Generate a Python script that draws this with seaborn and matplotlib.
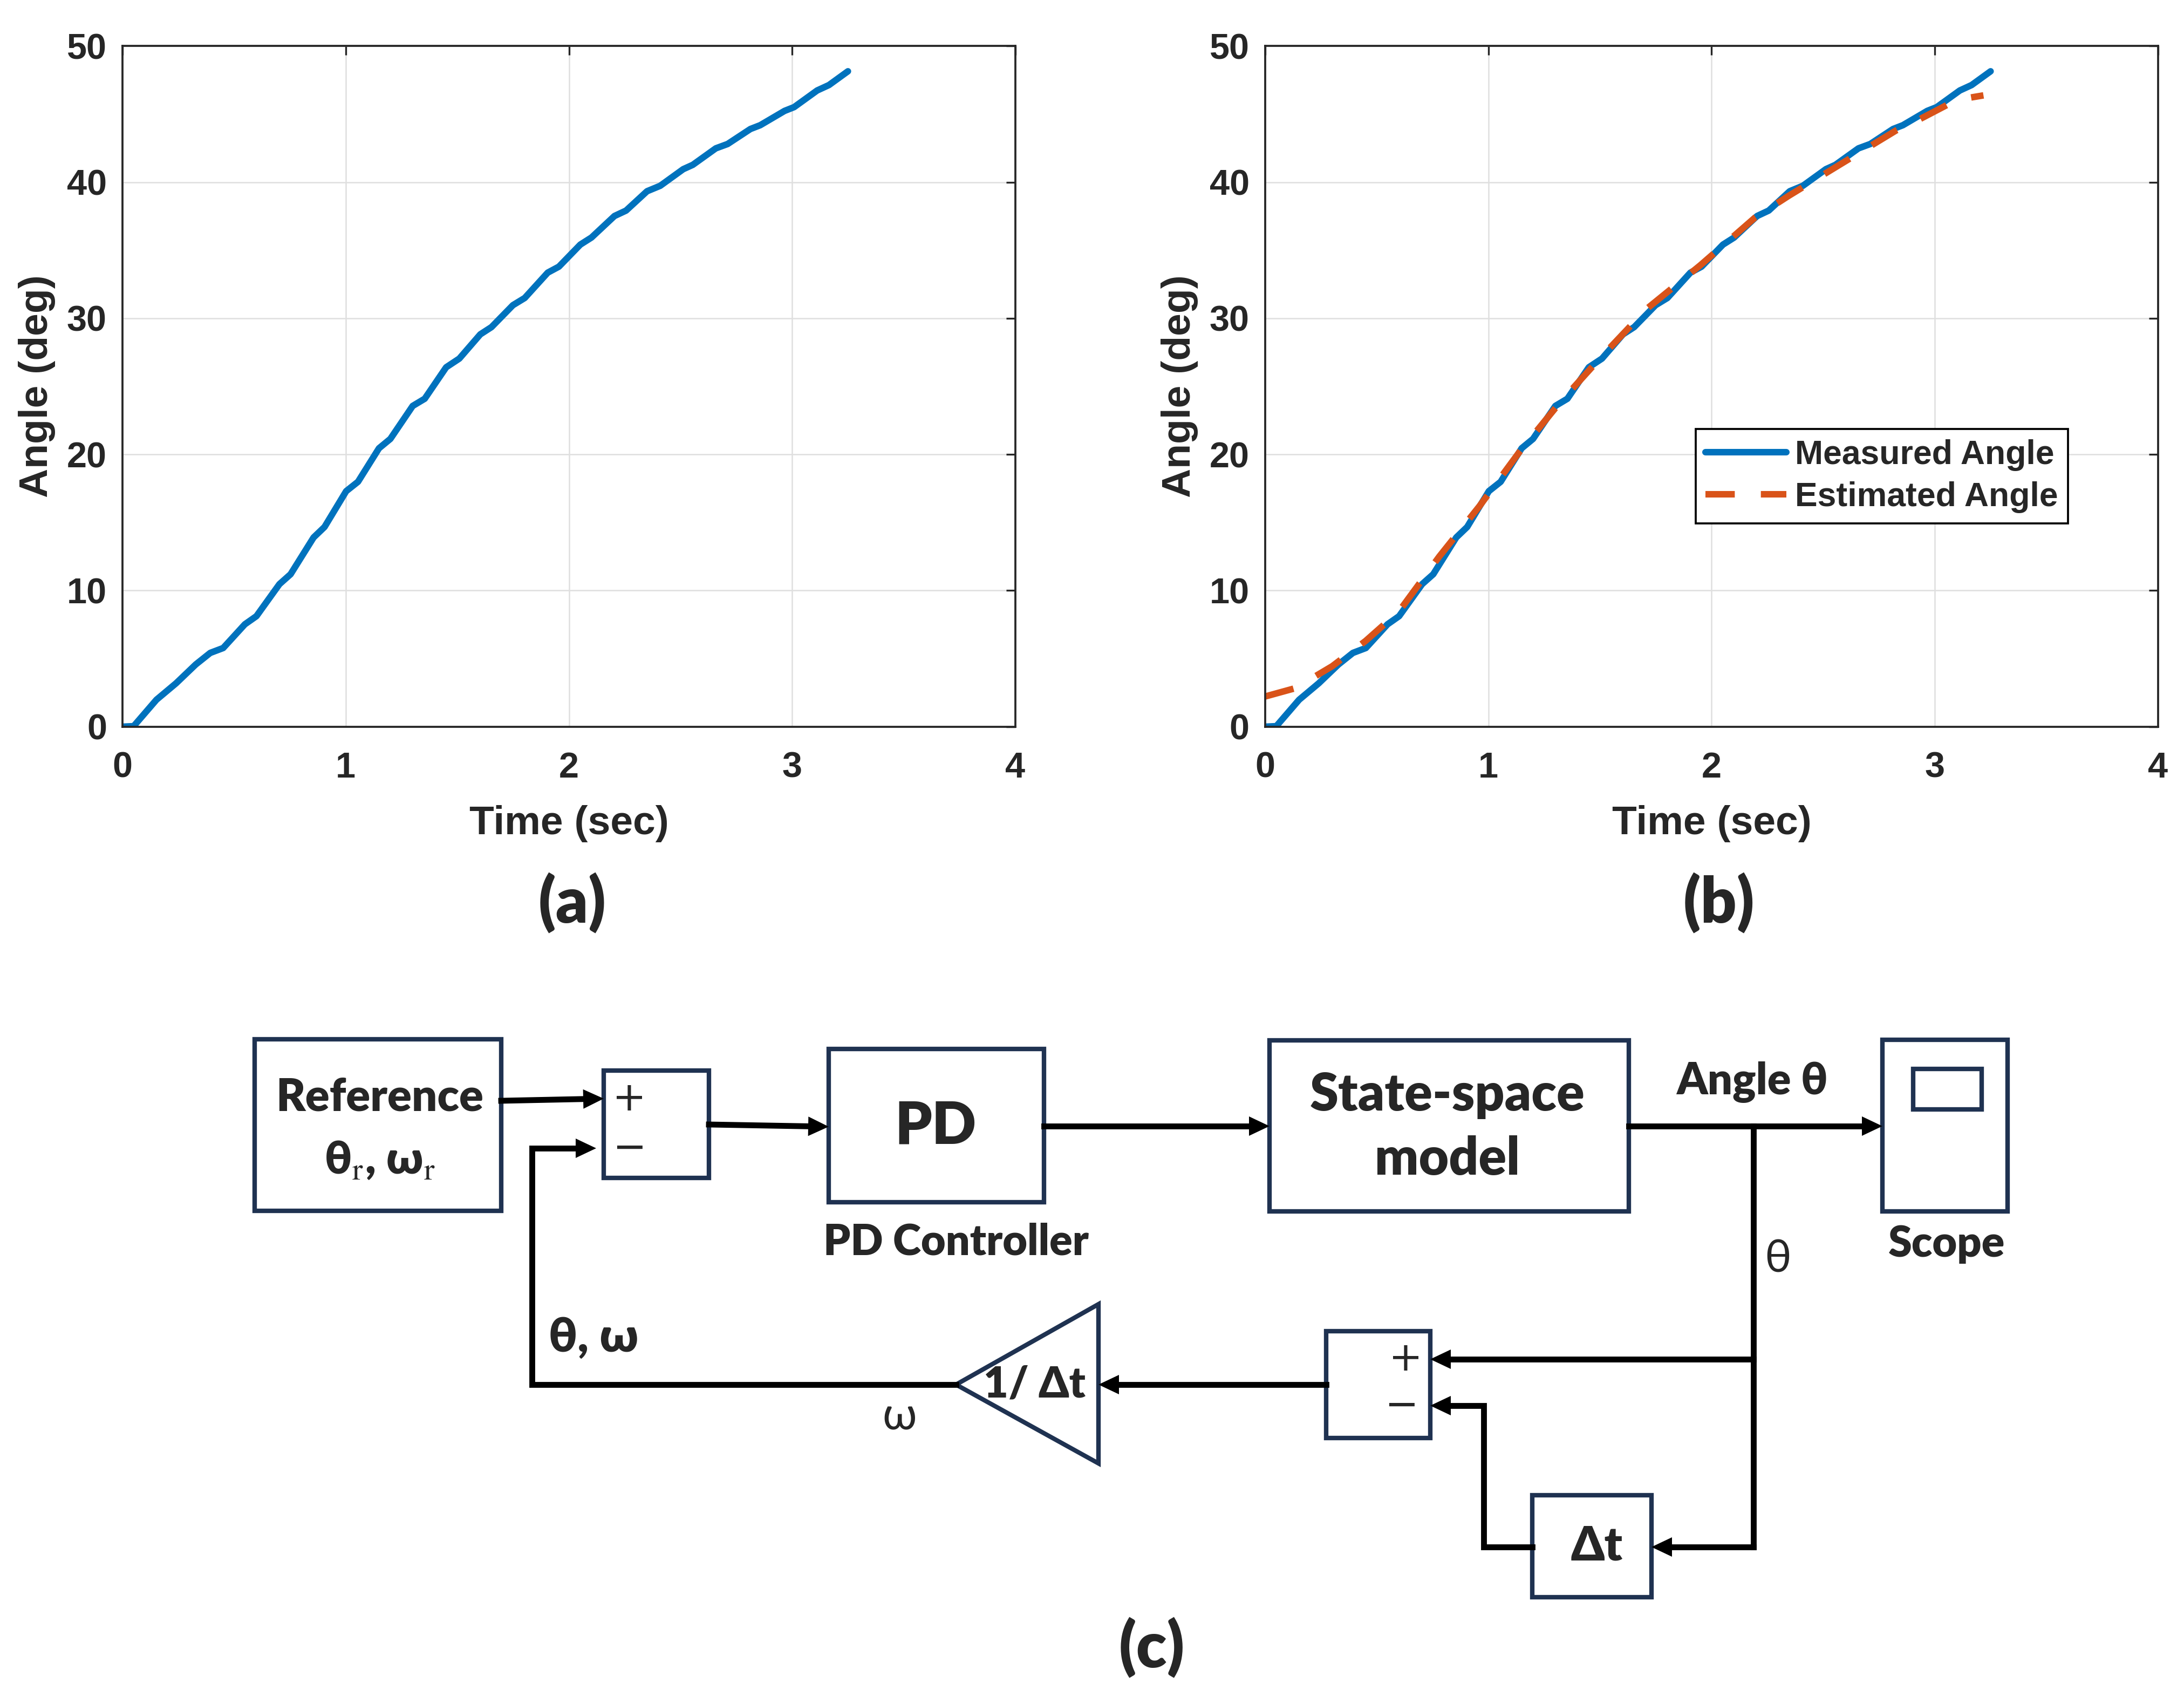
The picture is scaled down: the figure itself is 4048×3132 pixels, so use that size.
import numpy as np
import matplotlib
matplotlib.use("Agg")
import matplotlib.pyplot as plt
from matplotlib.patches import Rectangle, Polygon
import seaborn as sns

# ---- data ----
time_meas = [0.0, 0.05, 0.152, 0.24, 0.328, 0.393, 0.451, 0.548, 0.60, 0.703, 0.753,
             0.856, 0.905, 1.002, 1.055, 1.149, 1.20, 1.30, 1.354, 1.45, 1.509, 1.603,
             1.653, 1.749, 1.802, 1.905, 1.955, 2.051, 2.101, 2.204, 2.256, 2.35, 2.409,
             2.512, 2.555, 2.658, 2.711, 2.813, 2.857, 2.966, 3.009, 3.112, 3.165, 3.25]
angle_meas = [0.0, 0.04, 1.98, 3.19, 4.57, 5.42, 5.78, 7.52, 8.12, 10.47, 11.2,
              13.9, 14.67, 17.3, 17.99, 20.45, 21.14, 23.56, 24.09, 26.4, 27.04, 28.82,
              29.35, 30.96, 31.49, 33.35, 33.79, 35.41, 35.93, 37.51, 37.91, 39.33, 39.73,
              40.95, 41.27, 42.48, 42.8, 43.9, 44.18, 45.23, 45.51, 46.73, 47.13, 48.14]

time_est = [0.0, 0.135, 0.30, 0.45, 0.60, 0.78, 0.96, 1.14, 1.32, 1.50, 1.71, 1.95,
            2.195, 2.346, 2.586, 2.827, 2.93, 3.098, 3.218]
angle_est = [2.22, 2.83, 4.44, 6.3, 8.48, 12.5, 16.2, 20.2, 23.8, 27.06, 30.7, 33.9,
             37.4, 39.0, 41.4, 43.8, 44.6, 46.04, 46.37]

x_ticks = [0, 1, 2, 3, 4]
y_ticks = [0, 10, 20, 30, 40, 50]
legend_labels = ["Measured Angle", "Estimated Angle"]
panel_labels = ["(a)", "(b)", "(c)"]

BLUE = "#0072BD"
ORANGE = "#D95319"
NAVY = "#1F3251"
AXC = "#262626"

sns.set_style("white")
plt.rcParams["font.family"] = ["Liberation Sans", "DejaVu Sans"]
plt.rcParams["mathtext.fontset"] = "stix"

fig = plt.figure(figsize=(4048 / 300, 3132 / 300), dpi=300)

# diagram canvas in pixel units (drawn first, behind the plots)
axd = fig.add_axes([0, 0, 1, 1])
axd.set_xlim(0, 4048)
axd.set_ylim(3132, 0)
axd.axis("off")

ax_a = fig.add_axes([0.0561, 0.5700, 0.4088, 0.4028])
ax_b = fig.add_axes([0.5793, 0.5700, 0.4088, 0.4028])


def style(ax):
    ax.set_xlim(0, 4)
    ax.set_ylim(0, 50)
    ax.set_xticks(x_ticks)
    ax.set_yticks(y_ticks)
    ax.grid(True, color="#dfdfdf", linewidth=0.6)
    ax.set_axisbelow(True)
    ax.tick_params(direction="in", length=4, width=0.8, top=True, right=True,
                   labelsize=16, colors=AXC)
    ax.tick_params(axis="x", pad=11)
    ax.tick_params(axis="y", pad=7)
    for lab in ax.get_xticklabels() + ax.get_yticklabels():
        lab.set_fontweight("bold")
    for s in ax.spines.values():
        s.set_visible(True)
        s.set_color(AXC)
        s.set_linewidth(0.9)
    ax.set_xlabel("Time (sec)", fontsize=18, fontweight="bold", color=AXC, labelpad=9)
    ax.set_ylabel("Angle (deg)", fontsize=18, fontweight="bold", color=AXC, labelpad=5)


sns.lineplot(x=time_meas, y=angle_meas, ax=ax_a, color=BLUE, linewidth=2.9)
style(ax_a)

sns.lineplot(x=time_meas, y=angle_meas, ax=ax_b, color=BLUE, linewidth=2.9,
             label=legend_labels[0])
sns.lineplot(x=time_est, y=angle_est, ax=ax_b, color=ORANGE, linewidth=2.9,
             linestyle=(0, (4.5, 4)), label=legend_labels[1])
style(ax_b)
leg = ax_b.legend(loc="lower left", bbox_to_anchor=(0.482, 0.299), borderaxespad=0,
                  fancybox=False, framealpha=1, edgecolor="black",
                  handlelength=2.4, handletextpad=0.25, borderpad=0.3, labelspacing=0.3,
                  prop={"weight": "bold", "size": 15})
leg.get_frame().set_linewidth(0.9)

# ---- block diagram (c) ----
DFONT = ["Lato", "DejaVu Sans"]
LW = 2.6
HL, HW = 38, 36

for lbl, (px, py) in zip(panel_labels, [(1061, 1673), (3186, 1673), (2135, 3054)]):
    fig.text(px / 4048, 1 - py / 3132, lbl, ha="center", va="center",
             fontsize=28, fontweight="heavy", family=DFONT)


def box(x0, y0, x1, y1, lw=2.0):
    axd.add_patch(Rectangle((x0, y0), x1 - x0, y1 - y0, fill=False,
                            edgecolor=NAVY, linewidth=lw))


def wire(pts, head=True):
    pts = [np.array(p, float) for p in pts]
    if head:
        d = pts[-1] - pts[-2]
        d /= np.hypot(*d)
        n = np.array([-d[1], d[0]])
        tip = pts[-1]
        base = tip - d * HL
        line = pts[:-1] + [base]
        axd.add_patch(Polygon([tip, base + n * HW / 2, base - n * HW / 2],
                              closed=True, color="black", linewidth=0))
    else:
        line = pts
    xs, ys = zip(*line)
    axd.plot(xs, ys, color="black", lw=LW, solid_capstyle="projecting",
             solid_joinstyle="miter")


def label(x, y, s, size, bold=True, family=DFONT):
    axd.text(x, y, s, ha="center", va="center", fontsize=size,
             fontweight="heavy" if bold else "normal", family=family)


box(472, 1926, 929, 2244)
box(1119, 1984, 1314, 2183)
box(1536, 1944, 1935, 2228)
box(2353, 1928, 3019, 2245)
box(3489, 1927, 3721, 2245)
box(3546, 1981, 3673, 2056)
box(2458, 2467, 2651, 2665)
box(2840, 2771, 3061, 2960)
axd.add_patch(Polygon([(1772, 2566), (2036, 2417), (2036, 2712)], closed=True,
                      fill=False, edgecolor=NAVY, linewidth=2.0))

wire([(929, 2040), (1119, 2036)])
wire([(1772, 2566), (986, 2566), (986, 2128), (1105, 2128)])
wire([(1314, 2084), (1536, 2088)])
wire([(1935, 2087), (2353, 2087)])
wire([(3019, 2087), (3489, 2087)])
wire([(3250, 2087), (3250, 2867)], head=False)
wire([(3250, 2519), (2651, 2519)])
wire([(3250, 2867), (3061, 2867)])
wire([(2840, 2867), (2750, 2867), (2750, 2605), (2651, 2605)])
wire([(2458, 2566), (2036, 2566)])

SIGN = ["DejaVu Sans"]
label(704, 2034, "Reference", 20)
label(704, 2150, r"θ$_{\mathrm{r}}$, ω$_{\mathrm{r}}$", 20)
label(1167, 2037, "+", 18, bold=False, family=SIGN)
label(1167, 2129, "−", 18, bold=False, family=SIGN)
label(1734, 2088, "PD", 26)
label(1772, 2302, "PD Controller", 19)
label(2683, 2029, "State-space", 23)
label(2683, 2149, "model", 23)
label(3247, 2006, "Angle θ", 19.5)
label(3608, 2305, "Scope", 19)
label(3295, 2335, "θ", 20, bold=False)
label(2606, 2519, "+", 18, bold=False, family=SIGN)
label(2598, 2606, "−", 18, bold=False, family=SIGN)
label(2960, 2867, "Δt", 21)
label(1918, 2566, "1/ Δt", 19)
label(1667, 2626, "ω", 20, bold=False)
label(1100, 2480, "θ, ω", 21)

fig.savefig("out.png", dpi=300)
